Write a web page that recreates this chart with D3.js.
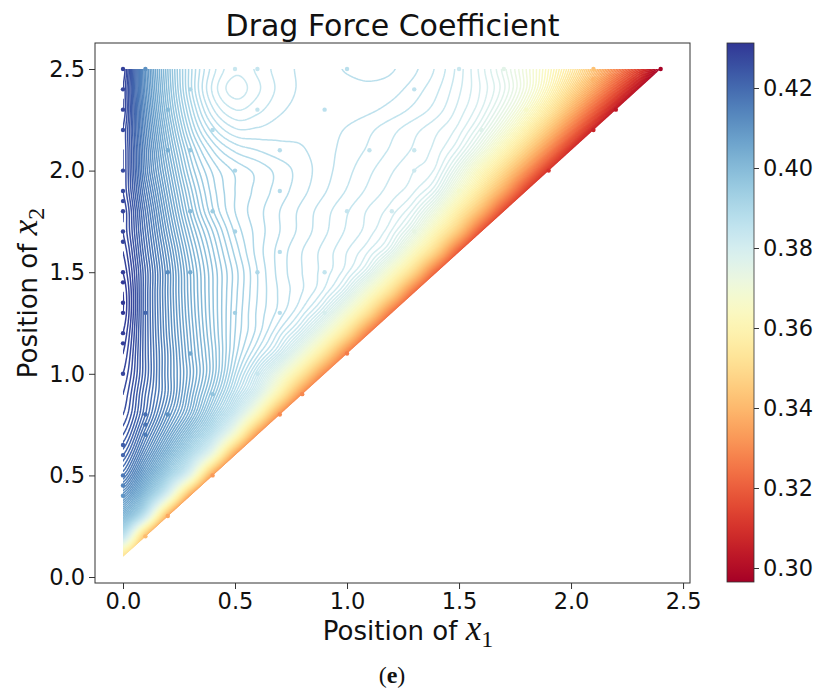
<!DOCTYPE html>
<html>
<head>
<meta charset="utf-8">
<script src="https://cdn.jsdelivr.net/npm/d3@7"></script>
<style>
  body { margin: 0; background: #fff; }
  text { font-family: "DejaVu Sans", sans-serif; fill: #111; }
</style>
</head>
<body>
<script>
// sample grid: x1 positions and x2 positions (0.1 apart)
var x1Grid = [0, 0.1, 0.2, 0.3, 0.4, 0.5, 0.6, 0.7, 0.8, 0.9, 1.0, 1.1, 1.2,
              1.3, 1.4, 1.5, 1.6, 1.7, 1.8, 1.9, 2.0, 2.1, 2.2, 2.3, 2.4];
var x2Grid = [0.1, 0.2, 0.3, 0.4, 0.5, 0.6, 0.7, 0.8, 0.9, 1.0, 1.1, 1.2, 1.3,
              1.4, 1.5, 1.6, 1.7, 1.8, 1.9, 2.0, 2.1, 2.2, 2.3, 2.4, 2.5];

// drag force coefficient, one row per x2, values for x1 = 0 .. x2-0.1
var cdRows = [
  [0.352],
  [0.384, 0.341],
  [0.400, 0.381, 0.336],
  [0.410, 0.397, 0.375, 0.334],
  [0.417, 0.406, 0.392, 0.373, 0.333],
  [0.421, 0.412, 0.401, 0.388, 0.369, 0.332],
  [0.424, 0.416, 0.407, 0.397, 0.385, 0.365, 0.331],
  [0.426, 0.419, 0.411, 0.403, 0.393, 0.381, 0.361, 0.330],
  [0.427, 0.420, 0.413, 0.405, 0.397, 0.388, 0.377, 0.357, 0.329],
  [0.428, 0.421, 0.413, 0.406, 0.399, 0.391, 0.383, 0.371, 0.353, 0.328],
  [0.429, 0.421, 0.413, 0.4055, 0.399, 0.3925, 0.3875, 0.3815, 0.370, 0.352, 0.3265],
  [0.430, 0.421, 0.4125, 0.405, 0.3985, 0.393, 0.3895, 0.3855, 0.380, 0.369, 0.351, 0.325],
  [0.431, 0.421, 0.4122, 0.4045, 0.3982, 0.3932, 0.3898, 0.3875, 0.3845, 0.379, 0.3675, 0.3495, 0.3235],
  [0.431, 0.421, 0.412, 0.4042, 0.3981, 0.3934, 0.390, 0.3878, 0.386, 0.3835, 0.378, 0.366, 0.3485, 0.322],
  [0.430, 0.421, 0.412, 0.404, 0.398, 0.3935, 0.390, 0.3876, 0.386, 0.3845, 0.3822, 0.377, 0.365, 0.347, 0.320],
  [0.429, 0.420, 0.411, 0.403, 0.3972, 0.3927, 0.3896, 0.3876, 0.386, 0.3846, 0.383, 0.3808, 0.376, 0.3635, 0.3455, 0.318],
  [0.428, 0.419, 0.4095, 0.4015, 0.396, 0.3918, 0.3896, 0.388, 0.3866, 0.3852, 0.3838, 0.3824, 0.3798, 0.3735, 0.3605, 0.3425, 0.316],
  [0.428, 0.418, 0.408, 0.3998, 0.3942, 0.391, 0.3894, 0.388, 0.3867, 0.3854, 0.3841, 0.3828, 0.3814, 0.3784, 0.3705, 0.3565, 0.3385, 0.314],
  [0.427, 0.4165, 0.4065, 0.3985, 0.3935, 0.391, 0.3897, 0.3885, 0.3873, 0.3861, 0.3849, 0.3837, 0.3825, 0.3811, 0.3775, 0.367, 0.353, 0.335, 0.312],
  [0.427, 0.415, 0.405, 0.397, 0.3928, 0.3908, 0.3897, 0.3886, 0.3875, 0.3864, 0.3853, 0.3842, 0.3831, 0.382, 0.3805, 0.3738, 0.3625, 0.349, 0.331, 0.310],
  [0.427, 0.4145, 0.4035, 0.3955, 0.391, 0.3888, 0.388, 0.3874, 0.3871, 0.3864, 0.3856, 0.3848, 0.3838, 0.3828, 0.3815, 0.3785, 0.3715, 0.3605, 0.3465, 0.3285, 0.308],
  [0.427, 0.4135, 0.402, 0.3935, 0.3885, 0.3862, 0.3862, 0.3866, 0.3867, 0.3864, 0.3859, 0.3852, 0.3843, 0.3833, 0.3822, 0.3805, 0.3765, 0.369, 0.358, 0.3435, 0.3255, 0.306],
  [0.428, 0.4125, 0.4005, 0.3918, 0.3862, 0.384, 0.3847, 0.3858, 0.3864, 0.3866, 0.3865, 0.3862, 0.3856, 0.3847, 0.3835, 0.3816, 0.379, 0.374, 0.366, 0.3545, 0.3395, 0.322, 0.303],
  [0.428, 0.4115, 0.3995, 0.3905, 0.3848, 0.3825, 0.3838, 0.3853, 0.3862, 0.3865, 0.3866, 0.3867, 0.3864, 0.3855, 0.3842, 0.3822, 0.3798, 0.3762, 0.370, 0.361, 0.349, 0.335, 0.3185, 0.301],
  [0.429, 0.411, 0.399, 0.3905, 0.3855, 0.3833, 0.3842, 0.3855, 0.3862, 0.3866, 0.3871, 0.3874, 0.3871, 0.3862, 0.3848, 0.3825, 0.3795, 0.3755, 0.370, 0.363, 0.354, 0.3425, 0.3285, 0.3135, 0.297]
];

// sampled design points (scatter markers)
var sampleX1 = [0, 0, 0, 0, 0, 0, 0, 0, 0, 0, 0, 0, 0, 0, 0, 0, 0, 0, 0, 0, 0, 0,
  0.1, 0.5, 0.6, 1.0, 1.5, 1.7, 2.1, 2.4, 0.3, 1.3, 2.1, 0.2, 0.6, 0.9, 1.8, 2.2,
  0.4, 1.6, 2.1, 0.2, 0.3, 0.7, 1.1, 1.3, 0.5, 1.3, 1.9, 0.7, 1.5, 0.3, 0.4, 1.0,
  1.2, 0.5, 1.3, 0.7, 0.2, 0.3, 0.6, 0.9, 0.1, 0.5, 0.7, 0.9, 0.3, 1.0, 0.6, 0.4,
  0.8, 0.1, 0.2, 0.7, 0.1, 0.1, 0.4, 0.2, 0.1];
var sampleX2 = [2.5, 2.4, 2.3, 2.2, 2.0, 1.9, 1.85, 1.8, 1.7, 1.65, 1.5, 1.45, 1.35,
  1.3, 1.2, 1.15, 1.0, 0.65, 0.6, 0.5, 0.45, 0.4,
  2.5, 2.5, 2.5, 2.5, 2.5, 2.5, 2.5, 2.5, 2.4, 2.4, 2.45, 2.3, 2.3, 2.3, 2.3, 2.3,
  2.2, 2.2, 2.2, 2.1, 2.1, 2.1, 2.1, 2.1, 2.0, 2.0, 2.0, 1.9, 1.9, 1.8, 1.8, 1.8,
  1.8, 1.7, 1.7, 1.6, 1.5, 1.5, 1.5, 1.5, 1.3, 1.3, 1.3, 1.3, 1.1, 1.1, 1.0, 0.9,
  0.9, 0.8, 0.8, 0.8, 0.75, 0.7, 0.5, 0.3, 0.2];

var x1Ticks = [0.0, 0.5, 1.0, 1.5, 2.0, 2.5];
var x2Ticks = [0.0, 0.5, 1.0, 1.5, 2.0, 2.5];
var cbTicks = [0.30, 0.32, 0.34, 0.36, 0.38, 0.40, 0.42];

var vMin = 0.2965, vMax = 0.43125, levelStep = 0.001;

var W = 827, H = 688;
var plot = {left: 95, right: 690, top: 43, bottom: 583};
var cbBox = {left: 727, right: 754, top: 43, bottom: 582};

var x = d3.scaleLinear().domain([-0.125, 2.531]).range([plot.left, plot.right]);
var y = d3.scaleLinear().domain([-0.0295, 2.628]).range([plot.bottom, plot.top]);
var color = d3.scaleSequential(d3.interpolateRdYlBu).domain([vMin, vMax]);

var svg = d3.select("body").append("svg")
    .attr("width", W)
    .attr("height", H);

// full matrix, extended past the diagonal by extrapolating along each row
var nI = x1Grid.length, nJ = x2Grid.length;
var M = [];
for (var j = 0; j < nJ; j++) {
  M[j] = [];
  for (var i = 0; i < nI; i++) {
    if (i <= j) M[j][i] = cdRows[j][i];
    else if (j === 0) M[j][i] = cdRows[0][0] - 0.03 * (i - j);
    else {
      var a = cdRows[j][j], b = cdRows[j][j - 1];
      M[j][i] = a + (a - b) * (i - j);
    }
  }
}

function clamp(v, lo, hi) { return v < lo ? lo : v > hi ? hi : v; }
function cubic(p0, p1, p2, p3, t) {
  return p1 + 0.5 * t * (p2 - p0 + t * (2 * p0 - 5 * p1 + 4 * p2 - p3 + t * (3 * (p1 - p2) + p3 - p0)));
}
function fieldAt(u, v) {
  var fi = clamp(u / 0.1, 0, nI - 1), fj = clamp((v - 0.1) / 0.1, 0, nJ - 1);
  var i1 = Math.min(Math.floor(fi), nI - 2), j1 = Math.min(Math.floor(fj), nJ - 2);
  var tx = fi - i1, ty = fj - j1, col = [];
  for (var dj = -1; dj <= 2; dj++) {
    var jj = clamp(j1 + dj, 0, nJ - 1), p = [];
    for (var di = -1; di <= 2; di++) p.push(M[jj][clamp(i1 + di, 0, nI - 1)]);
    col.push(cubic(p[0], p[1], p[2], p[3], tx));
  }
  return cubic(col[0], col[1], col[2], col[3], ty);
}

// fine grid for the contour generator
var step = 0.008, gx0 = -0.04, gy0 = 0.06;
var nx = Math.ceil((2.46 - gx0) / step) + 1, ny = Math.ceil((2.56 - gy0) / step) + 1;
var values = new Float64Array(nx * ny);
for (var r = 0; r < ny; r++) {
  for (var c = 0; c < nx; c++) values[r * nx + c] = fieldAt(gx0 + c * step, gy0 + r * step);
}

var levels = [];
for (var k = 0; k * levelStep + 0.297 <= 0.4315; k++) levels.push(+(0.297 + k * levelStep).toFixed(4));

var contours = d3.contours().size([nx, ny]).thresholds(levels)(values);

var path = d3.geoPath(d3.geoTransform({
  point: function(px, py) {
    this.stream.point(x(gx0 + (px - 0.5) * step), y(gy0 + (py - 0.5) * step));
  }
}));

svg.append("clipPath").attr("id", "tri")
  .append("path")
    .attr("d", "M" + x(0) + "," + y(0.1) + "L" + x(0) + "," + y(2.5) + "L" + x(2.4) + "," + y(2.5) + "Z");

svg.append("g")
    .attr("clip-path", "url(#tri)")
  .selectAll("path")
  .data(contours)
  .enter().append("path")
    .attr("d", path)
    .attr("fill", "none")
    .attr("stroke", function(d) { return color(d.value); })
    .attr("stroke-width", 1.5);

// design points
svg.append("g").selectAll("circle")
  .data(sampleX1.map(function(d, i) { return [d, sampleX2[i]]; }))
  .enter().append("circle")
    .attr("cx", function(d) { return x(d[0]); })
    .attr("cy", function(d) { return y(d[1]); })
    .attr("r", 2.2)
    .attr("fill", function(d) { return color(fieldAt(d[0], d[1])); });

// frame
svg.append("rect")
    .attr("x", plot.left).attr("y", plot.top)
    .attr("width", plot.right - plot.left).attr("height", plot.bottom - plot.top)
    .attr("fill", "none").attr("stroke", "#333").attr("stroke-width", 1);

var fmt1 = d3.format(".1f");
var gx = svg.append("g")
    .attr("transform", "translate(0," + plot.bottom + ")")
    .call(d3.axisBottom(x).tickValues(x1Ticks).tickFormat(fmt1).tickSize(6).tickPadding(4));
var gy = svg.append("g")
    .attr("transform", "translate(" + plot.left + ",0)")
    .call(d3.axisLeft(y).tickValues(x2Ticks).tickFormat(fmt1).tickSize(6).tickPadding(4));

// colorbar
var cb = d3.scaleLinear().domain([vMin, vMax]).range([cbBox.bottom, cbBox.top]);
var grad = svg.append("defs").append("linearGradient")
    .attr("id", "cbgrad").attr("x1", 0).attr("y1", 1).attr("x2", 0).attr("y2", 0);
d3.range(0, 1.0001, 0.02).forEach(function(t) {
  grad.append("stop").attr("offset", t).attr("stop-color", color(vMin + t * (vMax - vMin)));
});
svg.append("rect")
    .attr("x", cbBox.left).attr("y", cbBox.top)
    .attr("width", cbBox.right - cbBox.left).attr("height", cbBox.bottom - cbBox.top)
    .attr("fill", "url(#cbgrad)").attr("stroke", "#333").attr("stroke-width", 0.8);
var gc = svg.append("g")
    .attr("transform", "translate(" + cbBox.right + ",0)")
    .call(d3.axisRight(cb).tickValues(cbTicks).tickFormat(d3.format(".2f")).tickSize(5).tickPadding(4));

[gx, gy, gc].forEach(function(g) {
  g.select(".domain").remove();
  g.selectAll(".tick line").attr("stroke", "#333");
  g.selectAll(".tick text").style("font-size", "22.5px").style("font-family", "DejaVu Sans").attr("fill", "#111");
});

// title and labels
svg.append("text")
    .attr("x", (plot.left + plot.right) / 2).attr("y", 36)
    .attr("text-anchor", "middle")
    .style("font-size", "30px")
    .text("Drag Force Coefficient");

function axisLabel(sel, sub) {
  sel.append("tspan").text("Position of ");
  sel.append("tspan").style("font-family", "Liberation Serif").style("font-style", "italic")
    .style("font-size", "35px").text("x");
  sel.append("tspan").attr("dy", 7).style("font-family", "Liberation Serif").style("font-size", "24px").text(sub);
}

svg.append("text")
    .attr("x", 408).attr("y", 640)
    .attr("text-anchor", "middle")
    .style("font-size", "26px")
    .call(axisLabel, "1");

svg.append("text")
    .attr("transform", "translate(37,293) rotate(-90)")
    .attr("text-anchor", "middle")
    .style("font-size", "26px")
    .call(axisLabel, "2");

var cap = svg.append("text")
    .attr("x", 392).attr("y", 683)
    .attr("text-anchor", "middle")
    .style("font-family", "Liberation Serif")
    .style("font-size", "24px");
cap.append("tspan").text("(");
cap.append("tspan").style("font-weight", "bold").text("e");
cap.append("tspan").text(")");
</script>
</body>
</html>
